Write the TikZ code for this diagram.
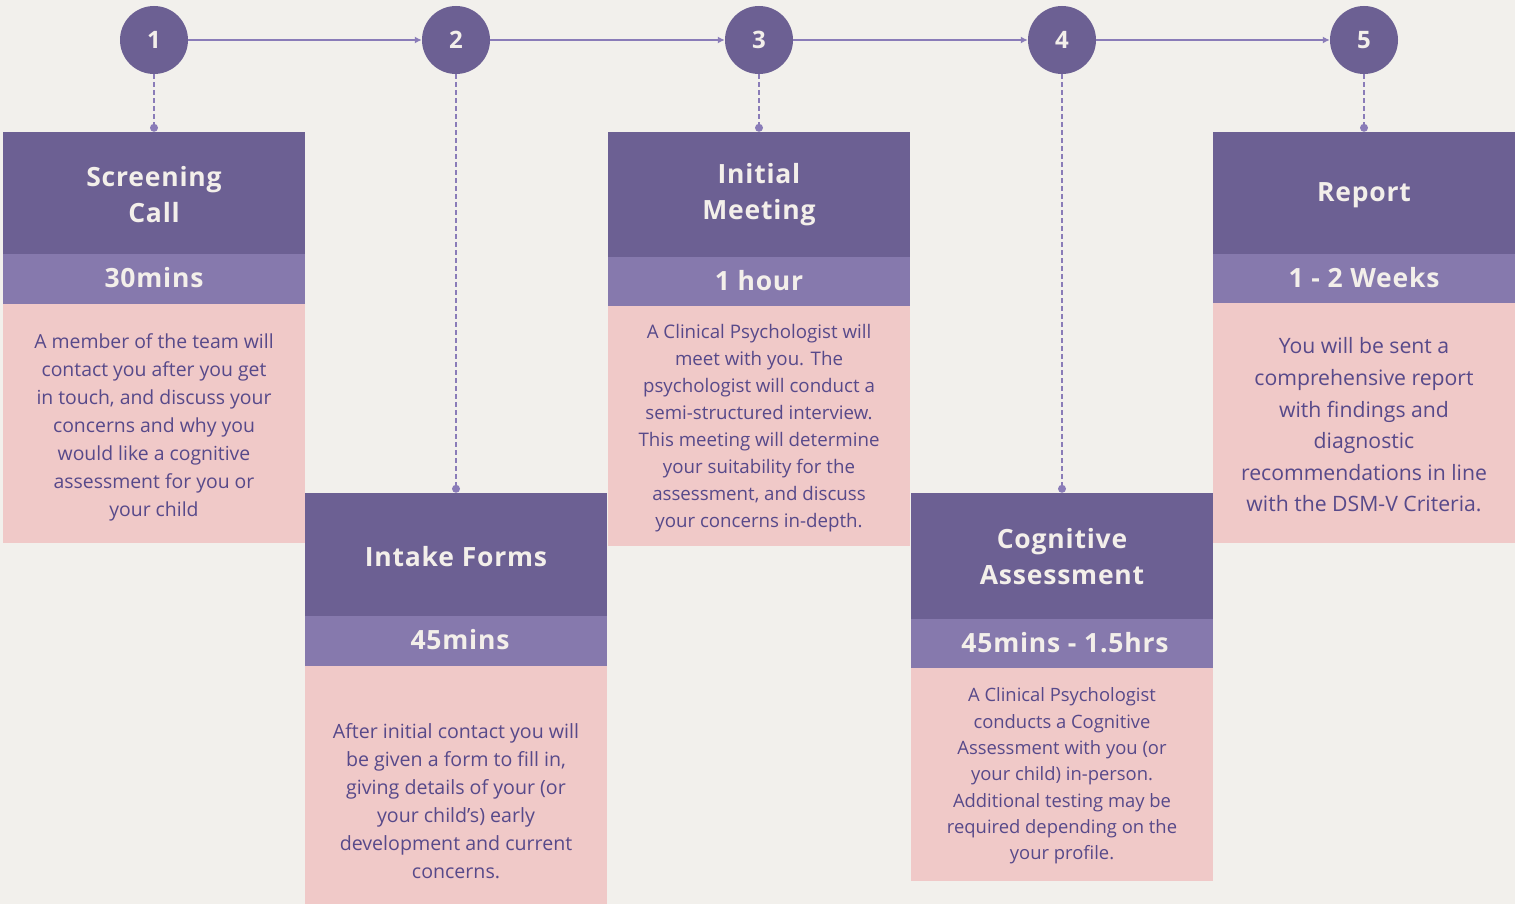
\documentclass[tikz,border=0pt]{standalone}
\usepackage{fontspec}
\setmainfont{Open Sans}
\usetikzlibrary{arrows.meta}
\definecolor{bgcol}{HTML}{F2F0EC}
\definecolor{headcol}{HTML}{6C6093}
\definecolor{subcol}{HTML}{8679AD}
\definecolor{bodycol}{HTML}{F0C9C8}
\definecolor{inkcol}{HTML}{57498A}
\definecolor{paper}{HTML}{F3EFEA}
\definecolor{linkcol}{HTML}{8A7CB8}
\tikzset{
  x=1pt, y=-1pt,
  stepnum/.style={circle, fill=headcol, minimum size=68pt, inner sep=0pt,
    text=paper, font=\fontsize{24}{28}\selectfont\bfseries},
  headbox/.style={rectangle, fill=headcol, minimum width=302pt, inner sep=0pt},
  subbox/.style={rectangle, fill=subcol, minimum width=302pt, inner sep=0pt},
  bodybox/.style={rectangle, fill=bodycol, minimum width=302pt, inner sep=0pt},
  headlabel/.style={inner sep=0pt, text=paper, align=center,
    font=\fontsize{26.5}{36}\selectfont\bfseries\addfontfeatures{LetterSpace=3}},
  sublabel/.style={inner sep=0pt, text=paper, align=center,
    font=\fontsize{26.5}{30}\selectfont\bfseries\addfontfeatures{LetterSpace=3}},
  bodytext/.style={text=inkcol, align=center, inner sep=0pt},
  flow/.style={draw=linkcol, line width=1.6pt, -{Latex[length=7pt,width=7pt]}},
  drop/.style={draw=linkcol, line width=1.6pt, dash pattern=on 5pt off 3pt},
  dropdot/.style={circle, fill=linkcol, minimum size=8pt, inner sep=0pt},
}
\begin{document}
\begin{tikzpicture}
\fill[bgcol] (0,0) rectangle (1515,904);
\useasboundingbox (0,0) rectangle (1515,904);

% step circles
\node[stepnum] (c1) at (154,40) {1};
\node[stepnum] (c2) at (456,40) {2};
\node[stepnum] (c3) at (759,40) {3};
\node[stepnum] (c4) at (1062,40) {4};
\node[stepnum] (c5) at (1364,40) {5};

% column 1: Screening Call
\node[bodybox, minimum height=239pt] (b1) at (154,423.5) {};
\node[headbox, minimum height=122pt] (h1) at (154,193) {};
\node[headlabel] (l1) at (154,195) {Screening\\Call};
\node[subbox, minimum height=50pt] (s1) at (154,279) {};
\node[sublabel] (m1) at (154,277.5) {30mins};
\node[bodytext, font=\fontsize{19.4}{28}\selectfont] (t1) at (154,427)
  {A member of the team will\\contact you after you get\\in touch, and discuss your\\concerns and why you\\would like a cognitive\\assessment for you or\\your child};

% column 3: Initial Meeting
\node[bodybox, minimum height=240pt] (b3) at (759,426) {};
\node[headbox, minimum height=125pt] (h3) at (759,194.5) {};
\node[headlabel] (l3) at (759,195) {Initial\\Meeting};
\node[subbox, minimum height=49pt] (s3) at (759,281.5) {};
\node[sublabel] (m3) at (759,280.5) {1 hour};
\node[bodytext, font=\fontsize{18.7}{27}\selectfont] (t3) at (759,428)
  {A Clinical Psychologist will\\meet with you. The\\psychologist will conduct a\\semi-structured interview.\\This meeting will determine\\your suitability for the\\assessment, and discuss\\your concerns in-depth.};

% column 5: Report
\node[bodybox, minimum height=240pt] (b5) at (1364,423) {};
\node[headbox, minimum height=122pt] (h5) at (1364,193) {};
\node[headlabel] (l5) at (1364,195) {Report};
\node[subbox, minimum height=49pt] (s5) at (1364,278.5) {};
\node[sublabel] (m5) at (1364,277.5) {1 - 2 Weeks};
\node[bodytext, font=\fontsize{21.2}{31.6}\selectfont] (t5) at (1364,425)
  {You will be sent a\\comprehensive report\\with findings and\\diagnostic\\recommendations in line\\with the DSM-V Criteria.};

% column 2: Intake Forms
\node[bodybox, minimum height=238pt] (b2) at (456,785) {};
\node[headbox, minimum height=123pt] (h2) at (456,554.5) {};
\node[headlabel] (l2) at (456,557) {Intake Forms};
\node[subbox, minimum height=50pt] (s2) at (456,641) {};
\node[sublabel] (m2) at (460,639.5) {45mins};
\node[bodytext, font=\fontsize{19.6}{28}\selectfont] (t2) at (456,801)
  {After initial contact you will\\be given a form to fill in,\\giving details of your (or\\your child’s) early\\development and current\\concerns.};

% column 4: Cognitive Assessment
\node[bodybox, minimum height=213pt] (b4) at (1062,774.5) {};
\node[headbox, minimum height=126pt] (h4) at (1062,556) {};
\node[headlabel] (l4) at (1062,557) {Cognitive\\Assessment};
\node[subbox, minimum height=49pt] (s4) at (1062,643.5) {};
\node[sublabel] (m4) at (1065,642.5) {45mins - 1.5hrs};
\node[bodytext, font=\fontsize{18.4}{26.3}\selectfont] (t4) at (1062,776)
  {A Clinical Psychologist\\conducts a Cognitive\\Assessment with you (or\\your child) in-person.\\Additional testing may be\\required depending on the\\your profile.};

% flow arrows between steps
\draw[flow] (c1) -- (c2);
\draw[flow] (c2) -- (c3);
\draw[flow] (c3) -- (c4);
\draw[flow] (c4) -- (c5);

% dashed drops from each step to its card
\foreach \i in {1,...,5} {
  \coordinate (d\i) at ([yshift=4pt]h\i.north);
  \draw[drop] (c\i.south) -- (d\i);
  \node[dropdot] at (d\i) {};
}
\end{tikzpicture}
\end{document}
